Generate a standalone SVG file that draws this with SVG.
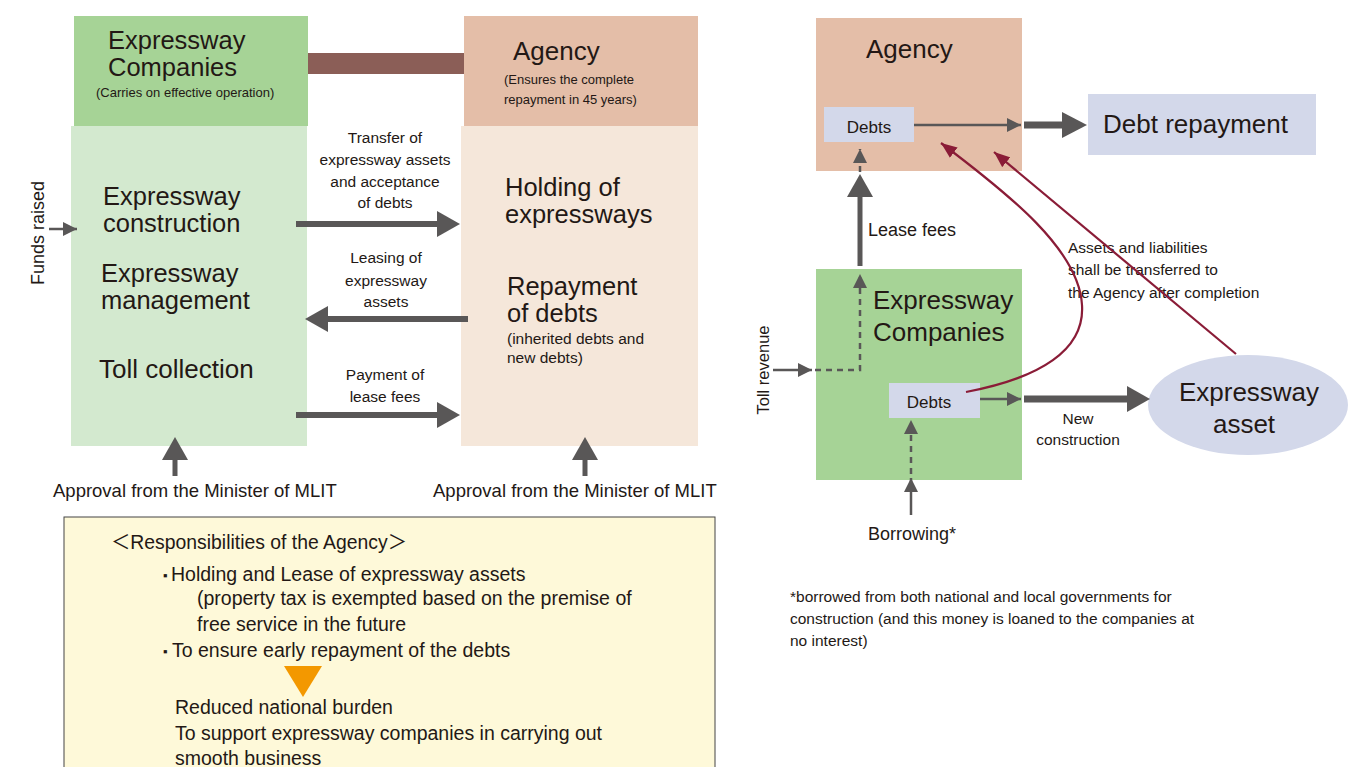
<svg xmlns="http://www.w3.org/2000/svg" width="1358" height="767" viewBox="0 0 1358 767">
<style>
text{font-family:"Liberation Sans",Arial,"Noto Sans CJK JP",sans-serif;fill:#231815}
.big{font-size:26px}
.pair{font-size:25.5px}
.mid{font-size:18px}
.lbl{font-size:15.5px}
.sub{font-size:13px}
.resp{font-size:19.5px}
.c{text-anchor:middle}
.thick{stroke:#595757;stroke-width:6;fill:none}
.thin{stroke:#595757;stroke-width:2.5;fill:none}
.dash{stroke:#595757;stroke-width:2.5;fill:none;stroke-dasharray:6 5}
.mar{stroke:#8a1c37;stroke-width:2.2;fill:none}
.head{fill:#595757}
</style>
<defs>
<marker id="ah" markerUnits="userSpaceOnUse" markerWidth="14" markerHeight="14" refX="12" refY="6" orient="auto" viewBox="0 0 12 12">
<path d="M0,0 L12,6 L0,12 z" fill="#595757"/>
</marker>
<marker id="mh" markerUnits="userSpaceOnUse" markerWidth="16" markerHeight="14" refX="15" refY="6" orient="auto" viewBox="0 0 15 12">
<path d="M0,0 L15,6 L0,12 z" fill="#8a1c37"/>
</marker>
</defs>

<!-- Left diagram -->
<g id="ec-top">
<rect x="74" y="16" width="234" height="110" fill="#a6d396"/>
<text class="pair" x="108" y="49">Expressway</text>
<text class="pair" x="108" y="76">Companies</text>
<text class="sub" x="96" y="97">(Carries on effective operation)</text>
</g>
<g id="link-bar">
<rect x="308" y="53" width="156" height="21" fill="#8b5e57"/>
</g>
<g id="agency-top">
<rect x="464" y="16" width="234" height="110" fill="#e4bea8"/>
<text class="big" x="513" y="60">Agency</text>
<text class="sub" x="504" y="84">(Ensures the complete</text>
<text class="sub" x="504" y="104">repayment in 45 years)</text>
</g>
<g id="ec-body">
<rect x="71" y="126" width="236" height="320" fill="#d3e9cf"/>
<text class="pair" x="103" y="205">Expressway</text>
<text class="pair" x="103" y="232">construction</text>
<text class="pair" x="101" y="282">Expressway</text>
<text class="pair" x="101" y="309">management</text>
<text class="big" x="99" y="378">Toll collection</text>
</g>
<g id="agency-body">
<rect x="461" y="126" width="237" height="320" fill="#f5e7da"/>
<text class="pair" x="505" y="196">Holding of</text>
<text class="pair" x="505" y="223">expressways</text>
<text class="pair" x="507" y="295">Repayment</text>
<text class="pair" x="507" y="322">of debts</text>
<text style="font-size:15.5px" x="507" y="344">(inherited debts and</text>
<text style="font-size:15.5px" x="507" y="363">new debts)</text>
</g>
<g id="funds-raised">
<text class="mid" transform="translate(44,233) rotate(-90)" text-anchor="middle">Funds raised</text>
</g>
<g id="approval-left">
<text style="font-size:18.5px" x="53" y="497">Approval from the Minister of MLIT</text>
</g>
<g id="approval-right">
<text style="font-size:18.5px" x="433" y="497">Approval from the Minister of MLIT</text>
</g>
<g id="left-labels">
<text class="lbl c" x="385" y="143">Transfer of</text>
<text class="lbl c" x="385" y="165">expressway assets</text>
<text class="lbl c" x="385" y="187">and acceptance</text>
<text class="lbl c" x="385" y="208">of debts</text>
<text class="lbl c" x="386" y="263">Leasing of</text>
<text class="lbl c" x="386" y="286">expressway</text>
<text class="lbl c" x="386" y="307">assets</text>
<text class="lbl c" x="385" y="380">Payment of</text>
<text class="lbl c" x="385" y="402">lease fees</text>
</g>

<!-- Right diagram -->
<g id="agency-r">
<rect x="816" y="18" width="206" height="153" fill="#e4bea8"/>
<text class="big" x="866" y="58">Agency</text>
</g>
<g id="debts-agency">
<rect x="824" y="107" width="90" height="35" fill="#d3d8ea"/>
<text style="font-size:17px" class="c" x="869" y="133">Debts</text>
</g>
<g id="debt-repayment">
<rect x="1088" y="94" width="228" height="61" fill="#d3d8ea"/>
<text class="big" x="1103" y="133">Debt repayment</text>
</g>
<g id="ec-r">
<rect x="816" y="269" width="206" height="211" fill="#a6d396"/>
<text class="big" x="873" y="309">Expressway</text>
<text class="big" x="873" y="341">Companies</text>
</g>
<g id="debts-ec">
<rect x="889" y="383" width="91" height="35" fill="#d3d8ea"/>
<text style="font-size:17px" class="c" x="929" y="408">Debts</text>
</g>
<g id="expressway-asset">
<ellipse cx="1248" cy="405" rx="100" ry="50" fill="#d3d8ea"/>
<text class="big c" x="1249" y="401">Expressway</text>
<text class="big c" x="1244" y="433">asset</text>
</g>
<g id="right-labels">
<text class="mid" x="868" y="236">Lease fees</text>
<text class="mid" transform="translate(769,370) rotate(-90)" text-anchor="middle" style="font-size:16.5px">Toll revenue</text>
<text class="mid" x="868" y="540">Borrowing*</text>
<text class="lbl c" x="1078" y="424">New</text>
<text class="lbl c" x="1078" y="445">construction</text>
<text class="lbl" x="1068" y="253">Assets and liabilities</text>
<text class="lbl" x="1068" y="275">shall be transferred to</text>
<text class="lbl" x="1068" y="298">the Agency after completion</text>
</g>
<g id="footnote">
<text class="lbl" x="790" y="602">*borrowed from both national and local governments for</text>
<text class="lbl" x="790" y="624">construction (and this money is loaned to the companies at</text>
<text class="lbl" x="790" y="646">no interest)</text>
</g>

<!-- Connectors -->
<g id="connectors">
<line class="thick" x1="296" y1="224" x2="440" y2="224"/>
<polygon class="head" points="437,211 460,224 437,237"/>
<line class="thick" x1="468" y1="319" x2="326" y2="319"/>
<polygon class="head" points="328,306 305,319 328,332"/>
<line class="thick" x1="296" y1="415" x2="440" y2="415"/>
<polygon class="head" points="437,402 460,415 437,428"/>
<line class="thin" x1="49" y1="229" x2="77" y2="229" marker-end="url(#ah)"/>
<line x1="175" y1="476" x2="175" y2="458" stroke="#595757" stroke-width="5"/>
<polygon class="head" points="162,460 175,437 188,460"/>
<line x1="585" y1="476" x2="585" y2="458" stroke="#595757" stroke-width="5"/>
<polygon class="head" points="572,460 585,437 598,460"/>

<line class="thin" x1="914" y1="125" x2="1021" y2="125" marker-end="url(#ah)"/>
<line x1="1024" y1="125" x2="1065" y2="125" stroke="#595757" stroke-width="7"/>
<polygon class="head" points="1062,112 1087,125 1062,138"/>
<line x1="860" y1="266" x2="860" y2="194" stroke="#595757" stroke-width="5"/>
<polygon class="head" points="847,197 860,174 873,197"/>
<line class="dash" x1="860" y1="172" x2="860" y2="149" marker-end="url(#ah)"/>
<line class="thin" x1="773" y1="370" x2="812" y2="370" marker-end="url(#ah)"/>
<polyline class="dash" points="815,370 860,370 860,274" marker-end="url(#ah)"/>
<line class="thin" x1="911" y1="515" x2="911" y2="478" marker-end="url(#ah)"/>
<line class="dash" x1="911" y1="474" x2="911" y2="420" marker-end="url(#ah)"/>
<line class="thin" x1="980" y1="399" x2="1021" y2="399" marker-end="url(#ah)"/>
<line x1="1024" y1="399" x2="1130" y2="399" stroke="#595757" stroke-width="7"/>
<polygon class="head" points="1127,386 1150,399 1127,412"/>
<path class="mar" d="M966,392 C1040,378 1085,350 1082,305 C1079,250 1010,195 941,143" marker-end="url(#mh)"/>
<path class="mar" d="M1236,354 L994,152" marker-end="url(#mh)"/>
</g>

<!-- Responsibilities box -->
<g id="responsibilities">
<rect x="64" y="517" width="651" height="260" fill="#fef9d9" stroke="#444" stroke-width="1"/>
<text class="resp" x="111" y="549" textLength="296" lengthAdjust="spacingAndGlyphs">＜Responsibilities of the Agency＞</text>
<text style="font-size:13px" x="163" y="580">▪</text>
<text class="resp" x="171" y="581">Holding and Lease of expressway assets</text>
<text class="resp" x="197" y="605">(property tax is exempted based on the premise of</text>
<text class="resp" x="197" y="631">free service in the future</text>
<text style="font-size:13px" x="163" y="656">▪</text>
<text class="resp" x="172" y="657">To ensure early repayment of the debts</text>
<polygon points="284,666 322,666 303,697" fill="#f39800"/>
<text class="resp" x="175" y="714">Reduced national burden</text>
<text class="resp" x="175" y="740">To support expressway companies in carrying out</text>
<text class="resp" x="175" y="765">smooth business</text>
</g>
</svg>
